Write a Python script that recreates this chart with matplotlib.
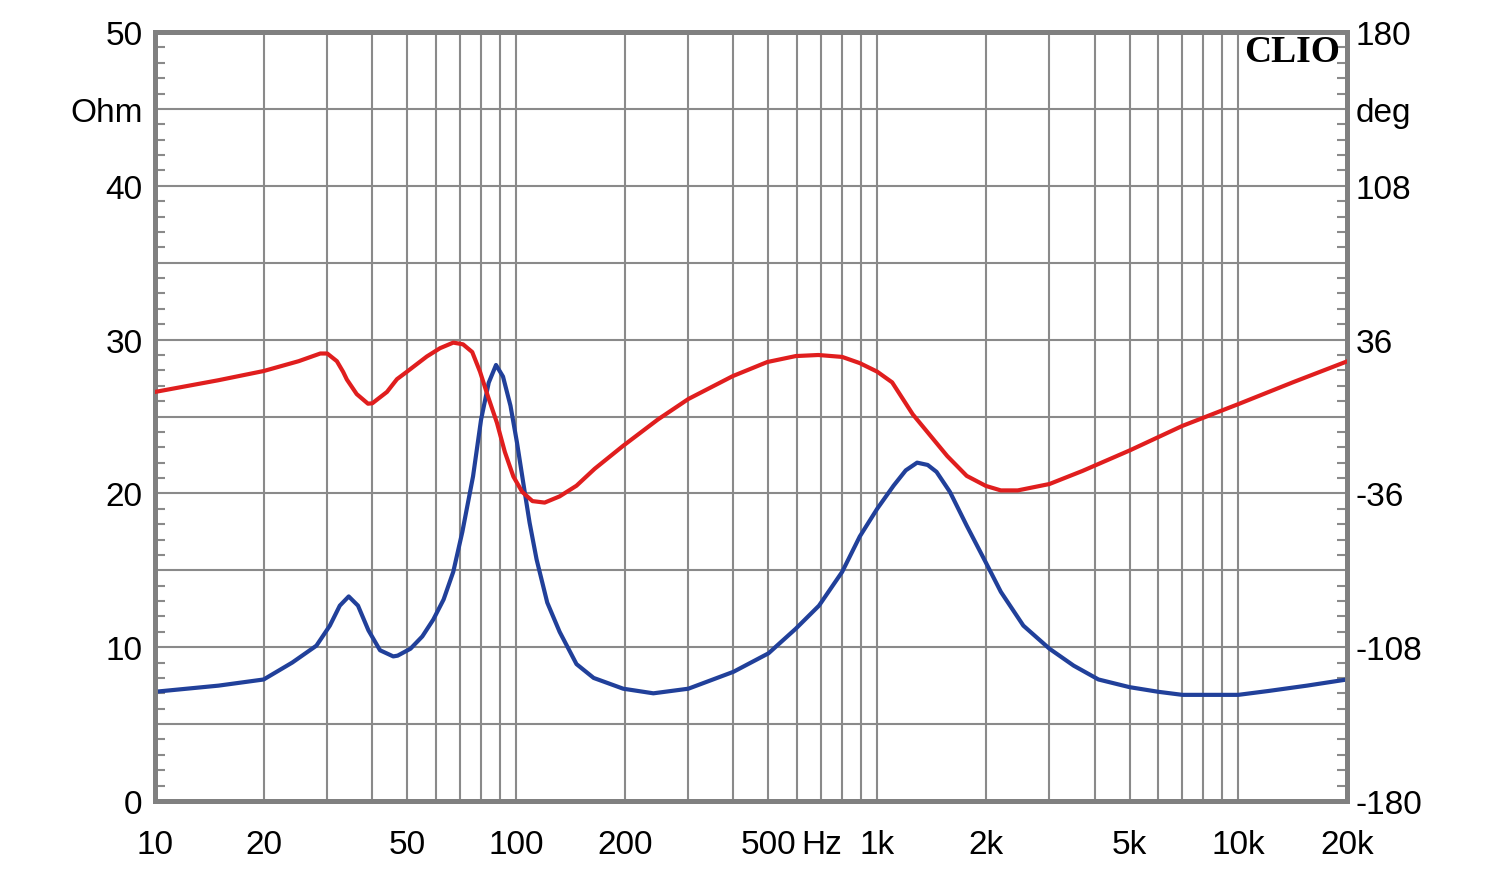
import matplotlib.pyplot as plt
import numpy as np
from matplotlib.ticker import FixedLocator, NullFormatter

plt.rcParams["font.family"] = ["Liberation Sans", "DejaVu Sans"]

# impedance magnitude (Ohm)
f_imp = [10, 15, 20, 24, 28, 30.5, 32.5, 34.4, 36.5, 39, 42, 45.7, 47, 51, 55, 59, 63,
         67, 71, 76, 80, 84, 88, 92, 96.5, 100.6, 105, 109, 114, 122, 132, 147, 164,
         198, 240, 300, 400, 500, 595, 690, 800, 895, 1000, 1110, 1200, 1290, 1380,
         1460, 1590, 1770, 2000, 2200, 2540, 3000, 3500, 4100, 5000, 6000, 7000, 10000,
         12100, 15500, 20000]
ohm = [7.1, 7.5, 7.9, 9.0, 10.1, 11.4, 12.7, 13.3, 12.7, 11.1, 9.8, 9.4, 9.45, 9.9,
       10.7, 11.8, 13.1, 14.9, 17.5, 21.1, 24.8, 27.2, 28.35, 27.6, 25.7, 23.3, 20.5,
       18.1, 15.7, 12.9, 11.0, 8.9, 8.0, 7.3, 7.0, 7.3, 8.4, 9.6, 11.2, 12.7, 14.9,
       17.2, 19.0, 20.5, 21.5, 22.0, 21.85, 21.4, 20.1, 17.9, 15.5, 13.6, 11.4, 9.9,
       8.8, 7.9, 7.4, 7.1, 6.9, 6.9, 7.15, 7.5, 7.9]

# impedance phase (deg)
f_ph = [10, 15, 20, 25, 28.7, 30, 31.9, 33.2, 34, 36.2, 38.9, 40, 41.2, 43.9, 46.8,
        49.8, 56.6, 61.6, 67, 71.3, 75.6, 79.5, 83.6, 88.5, 93.1, 98.3, 104, 111, 120,
        132, 147, 165, 198, 247, 300, 398, 496, 595, 687, 800, 895, 1000, 1100, 1255,
        1563, 1770, 2000, 2200, 2450, 3000, 3700, 5000, 7000, 10000, 14200, 20000]
deg = [11.5, 17.0, 21.3, 25.9, 29.5, 29.5, 25.9, 20.9, 17.3, 10.5, 6.0, 6.2, 7.9,
       11.5, 17.5, 20.9, 28.1, 32.0, 34.6, 33.8, 30.2, 20.9, 9.4, -2.9, -16.6, -28.1,
       -35.3, -39.6, -40.3, -37.4, -32.4, -24.5, -13.7, -1.4, 8.2, 18.9, 25.5, 28.3,
       28.8, 27.9, 25.0, 21.0, 16.0, 1.0, -18.5, -27.8, -32.5, -34.6, -34.6, -31.6,
       -25.5, -15.9, -4.4, 5.8, 16.1, 25.8]

xticks = [10, 20, 50, 100, 200, 500, 700, 1000, 2000, 5000, 10000, 20000]
xlabels = ["10", "20", "50", "100", "200", "500", "Hz", "1k", "2k", "5k", "10k", "20k"]
yticks = [0, 5, 10, 15, 20, 25, 30, 35, 40, 45, 50]
ylabels = ["0", "", "10", "", "20", "", "30", "", "40", "Ohm", "50"]
rlabels = ["-180", "", "-108", "", "-36", "", "36", "", "108", "deg", "180"]

gridc = "#8a8a8a"
fig = plt.figure(figsize=(15, 8.7), dpi=100)
ax = fig.add_axes([0.1033, 0.0782, 0.7947, 0.8838])
ax2 = ax.twinx()

ax.set_xscale("log")
ax.set_xlim(10, 20000)
ax.set_ylim(0, 50)
ax2.set_ylim(-180, 180)

ax.xaxis.set_major_locator(FixedLocator(xticks))
ax.set_xticklabels(xlabels)
minor_x = [m * d for d in [10, 100, 1000, 10000] for m in range(1, 10) if m * d <= 20000]
ax.xaxis.set_minor_locator(FixedLocator(minor_x))
ax.xaxis.set_minor_formatter(NullFormatter())
ax.tick_params(axis="x", which="both", length=0, labelsize=24, pad=20)

ax.set_yticks(yticks)
ax.set_yticklabels(ylabels)
ax.yaxis.set_minor_locator(FixedLocator(np.arange(0, 51, 1)))
ax.tick_params(axis="y", which="major", length=0, labelsize=24, pad=9)
ax.tick_params(axis="y", which="minor", direction="in", length=7, width=1.5,
               color=gridc, left=True, right=True)

ax2.set_yticks(np.arange(-180, 181, 36))
ax2.set_yticklabels(rlabels)
ax2.tick_params(axis="y", length=0, labelsize=24, pad=6)

ax.grid(True, which="both", axis="x", color=gridc, lw=1.5)
ax.grid(True, which="major", axis="y", color=gridc, lw=1.5)
ax.set_axisbelow(True)

for a in (ax, ax2):
    for s in a.spines.values():
        s.set_color("#808080")
        s.set_linewidth(3.5)

ax.plot(f_imp, ohm, color="#21409a", lw=3, zorder=3, solid_joinstyle="round")
ax2.plot(f_ph, deg, color="#e01e1e", lw=3, zorder=3, solid_joinstyle="round")

ax.text(0.994, 0.997, "CLIO", transform=ax.transAxes, ha="right", va="top",
        fontsize=27, fontweight="bold", family="Liberation Serif")

fig.savefig("out.png", dpi=100)
